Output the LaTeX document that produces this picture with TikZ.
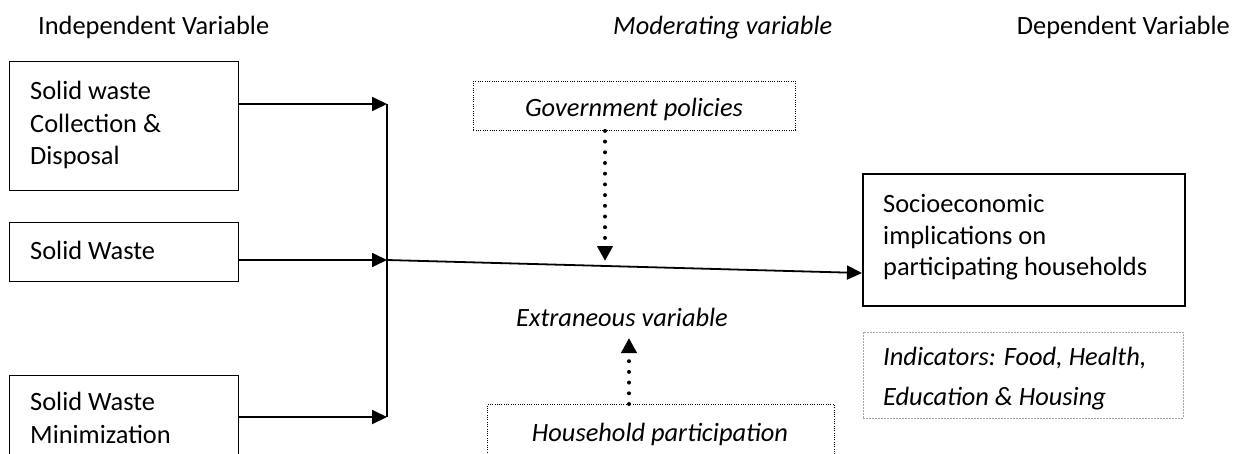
\documentclass[tikz,border=0pt]{standalone}
\usepackage{fontspec}
\setmainfont{Carlito}
\usetikzlibrary{arrows.meta}
\begin{document}
\begin{tikzpicture}[x=1pt,y=-1pt,
  box/.style={draw,line width=1.4pt,inner sep=0pt,anchor=north west},
  txt/.style={anchor=base west,inner sep=0pt,font=\fontsize{26.4}{32}\selectfont},
  itxt/.style={anchor=base,inner sep=0pt,font=\fontsize{26.4}{32}\selectfont\itshape},
  arr/.style={line width=1.8pt,-{Triangle[length=15pt,width=14pt]}},
  dotarr/.style={line width=4pt,line cap=round,dash pattern=on 0pt off 10.7pt,
    -{Triangle[length=15pt,width=15pt]}}]
\useasboundingbox (0,0) rectangle (1237,453);
\clip (0,0) rectangle (1237,453);

% column headings
\node[txt] (hind) at (38,34) {Independent Variable};
\node[txt,font=\fontsize{26.4}{32}\selectfont\itshape] (hmod) at (613,34) {Moderating variable};
\node[txt,anchor=base east] (hdep) at (1230,34) {Dependent Variable};

% independent variables
\node[box,minimum width=229pt,minimum height=129pt] (b1) at (9,61) {};
\node[txt] at (30,99) {Solid waste};
\node[txt] at (30,132) {Collection \&};
\node[txt] at (30,164) {Disposal};

\node[box,minimum width=229pt,minimum height=59pt] (b2) at (9,222) {};
\node[txt] at (30,259) {Solid Waste};

\node[box,minimum width=229pt,minimum height=110pt] (b3) at (9,375) {};
\node[txt] at (30,410) {Solid Waste};
\node[txt] at (30,443) {Minimization};

% junction bar
\coordinate (j1) at (387,104);
\coordinate (j2) at (387,260);
\coordinate (j3) at (387,417);
\draw[line width=1.8pt] (j1) -- (j3);
\draw[arr] (b1.east |- j1) -- (j1);
\draw[arr] (b2.east |- j2) -- (j2);
\draw[arr] (b3.east |- j3) -- (j3);

% dependent variable
\node[box,line width=2pt,minimum width=322pt,minimum height=132pt] (dep) at (862,173) {};
\node[txt] at (883,212) {Socioeconomic};
\node[txt] at (883,244) {implications on};
\node[txt] at (883,275) {participating households};
\coordinate (depin) at (862,273);
\draw[arr] (j2) -- (depin);

% indicators
\node[box,draw=gray!70,line width=0.7pt,dash pattern=on 2pt off 1pt,
  minimum width=320pt,minimum height=86pt] (ind) at (863,332) {};
\node[txt,font=\fontsize{26.4}{32}\selectfont\itshape] at (883,365) {Indicators: Food, Health,};
\node[txt,font=\fontsize{26.4}{32}\selectfont\itshape] at (883,405) {Education \& Housing};

% moderating variable
\node[box,line width=0.9pt,dash pattern=on 1pt off 1.3pt,
  minimum width=322pt,minimum height=49pt] (gov) at (473,81) {};
\node[itxt] at (634,116) {Government policies};
\coordinate (govin) at (605,261);
\draw[dotarr] (gov.south -| govin) -- (govin);

% extraneous variable
\node[itxt] (ext) at (622,326) {Extraneous variable};
\node[box,line width=0.9pt,dash pattern=on 1pt off 1.3pt,
  minimum width=347pt,minimum height=80pt] (hh) at (487,404) {};
\node[itxt] at (660,441) {Household participation};
\coordinate (extin) at (629,338);
\draw[dotarr] (hh.north -| extin) -- (extin);
\end{tikzpicture}
\end{document}
